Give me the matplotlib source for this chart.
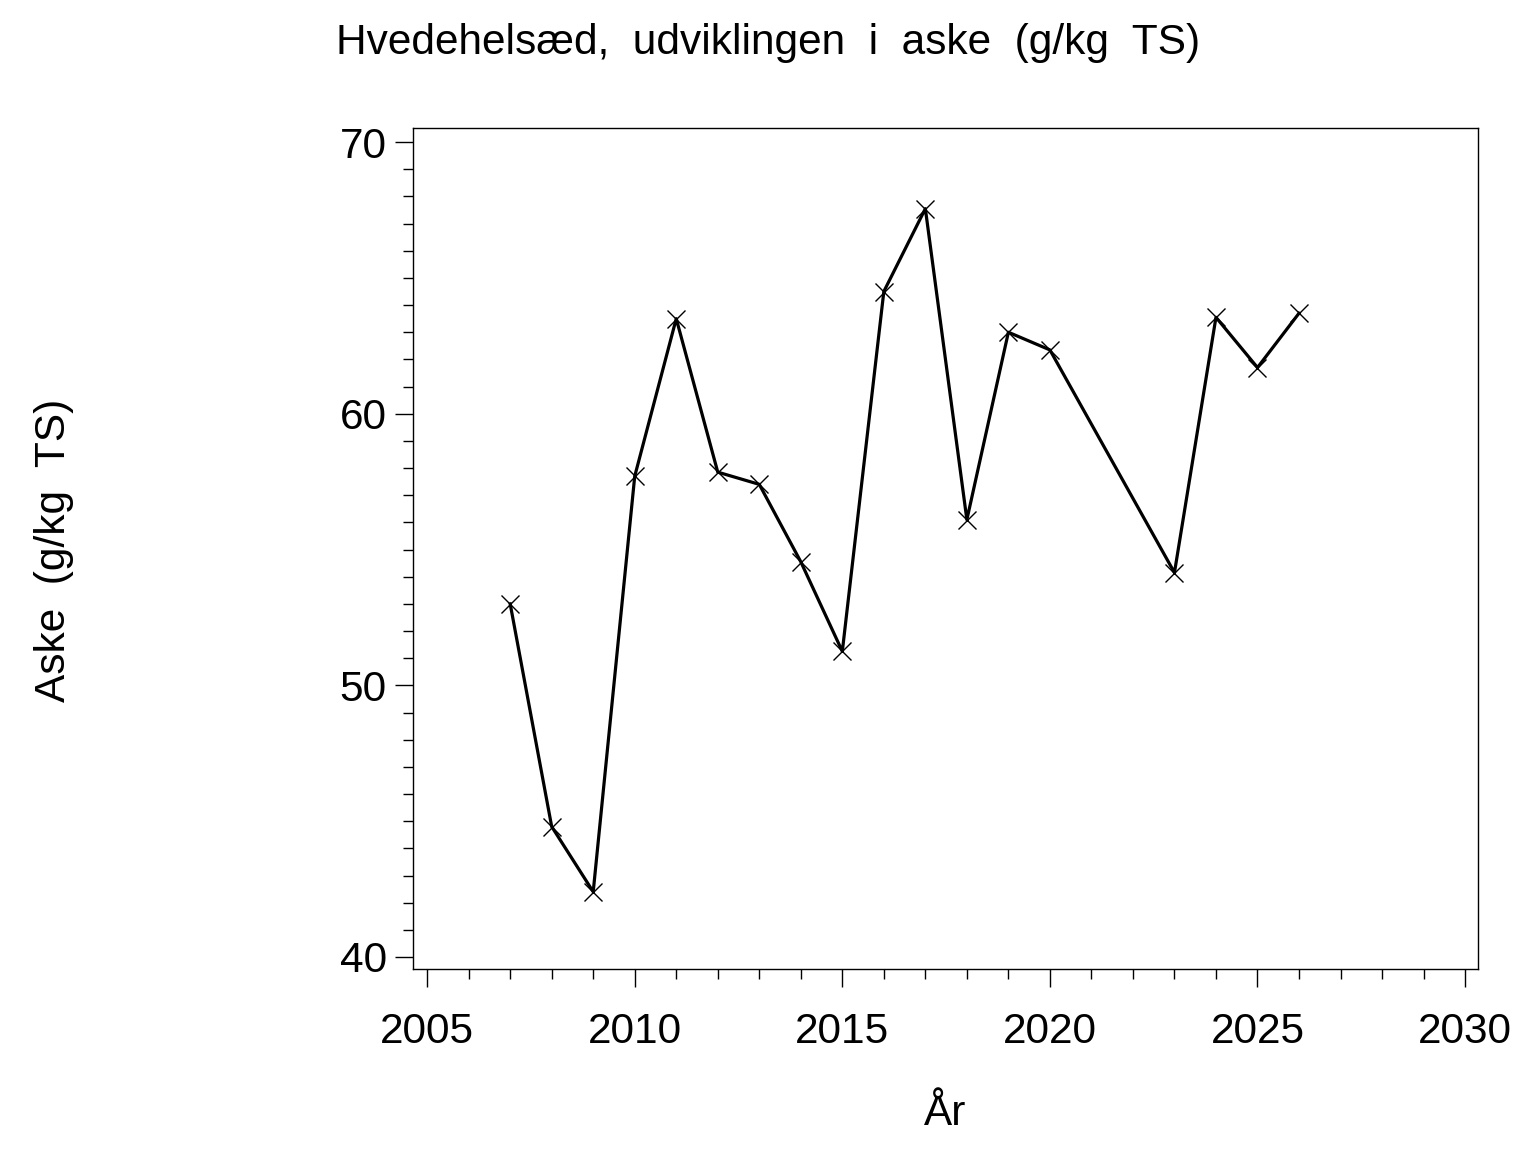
import matplotlib
matplotlib.use("Agg")
import matplotlib.pyplot as plt
from matplotlib.ticker import MultipleLocator

years = [2007, 2008, 2009, 2010, 2011, 2012, 2013, 2014, 2015,
         2016, 2017, 2018, 2019, 2020, 2023, 2024, 2025, 2026]
aske = [53.0, 44.8, 42.4, 57.7, 63.5, 57.85, 57.4, 54.55, 51.25,
        64.5, 67.55, 56.1, 63.0, 62.35, 54.15, 63.55, 61.7, 63.7]

plt.rcParams['font.family'] = ['Liberation Sans', 'DejaVu Sans']

fig = plt.figure(figsize=(15.36, 11.52), dpi=100)
ax = fig.add_axes([0.2689, 0.1589, 0.6933, 0.73])

ax.plot(years, aske, color='black', linewidth=2.3, marker='x',
        markersize=13, markeredgewidth=1)

ax.set_xlim(2004.66, 2030.31)
ax.set_ylim(39.56, 70.52)
ax.xaxis.set_major_locator(MultipleLocator(5))
ax.xaxis.set_minor_locator(MultipleLocator(1))
ax.yaxis.set_major_locator(MultipleLocator(10))
ax.yaxis.set_minor_locator(MultipleLocator(1))
ax.tick_params(which='major', length=13, width=1, labelsize=30.5, direction='out')
ax.tick_params(which='minor', length=7, width=1, direction='out')
ax.tick_params(axis='x', pad=18)
ax.tick_params(axis='y', pad=6)
for s in ax.spines.values():
    s.set_linewidth(1)

ax.set_xlabel('År', fontsize=30.5, labelpad=30)
fig.text(0.035, 0.5226, 'Aske  (g/kg  TS)', rotation=90, fontsize=30.5,
         ha='center', va='center')
fig.text(0.219, 0.963, 'Hvedehelsæd,  udviklingen  i  aske  (g/kg  TS)',
         fontsize=30.5, ha='left', va='center')

fig.savefig('out.png', dpi=100)
